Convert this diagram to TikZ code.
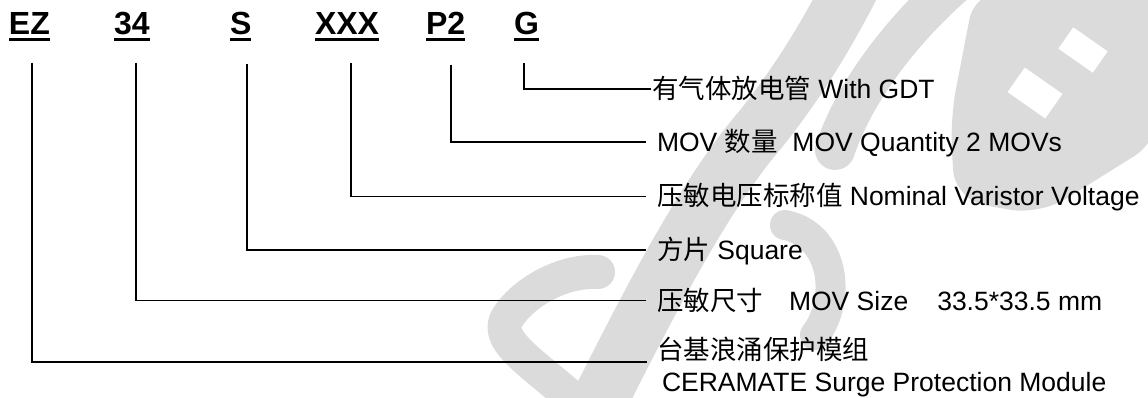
\documentclass[tikz,border=0pt]{standalone}
\usepackage{fontspec}
\setmainfont{Liberation Sans}
\newfontfamily\cjk{Noto Sans CJK SC}
\definecolor{wmgray}{RGB}{219,219,219}
\begin{document}
\begin{tikzpicture}[x=1pt,y=-1pt,
  lbl/.style={anchor=base west, inner sep=0pt, outer sep=0pt, font=\fontsize{32}{32}\selectfont\bfseries},
  desc/.style={anchor=base west, inner sep=0pt, outer sep=0pt, font=\fontsize{26.5}{26.5}\selectfont},
  conn/.style={line width=1.5pt, black},
  uline/.style={line width=3pt},
  wm/.style={draw=wmgray, line width=44pt, line cap=round, line join=round}]
\useasboundingbox (0,0) rectangle (1148,398);
% watermark (approximate)
\draw[wm, line width=34pt] (598,272) .. controls (560,270) and (520,295) .. (506,320) .. controls (495,345) and (545,370) .. (590,415);
\draw[wm, line width=56pt] (585,430) .. controls (640,320) and (700,200) .. (760,130) .. controls (800,80) and (830,30) .. (860,-30);
\draw[wm, line width=30pt] (785,225) .. controls (835,235) and (842,300) .. (815,335);
\draw[wm, line width=40pt] (965,-25) .. controls (905,25) and (855,90) .. (835,150);
\fill[wmgray, rounded corners=30pt] (975,-10) -- (1160,-10) -- (1160,140) -- (1040,215) -- (955,200) -- (950,120) -- cycle;
\fill[white, rotate around={-35:(1035,93)}] (1012,78) rectangle (1058,108);
\fill[white, rotate around={-35:(1083,50)}] (1062,37) rectangle (1104,63);
% labels
\node[lbl] (EZ)  at (9,35)   {EZ};
\node[lbl] (n34) at (114,35) {34};
\node[lbl] (S)   at (230,35) {S};
\node[lbl] (XXX) at (315,35) {XXX};
\node[lbl] (P2)  at (426,35) {P2};
\node[lbl] (G)   at (514,35) {G};
\foreach \n in {EZ,n34,S,XXX,P2,G}
  \draw[uline] ([yshift=-5pt]\n.base west) -- ([yshift=-5pt]\n.base east);
% connector coordinates
\coordinate (ezT) at (32,63);   \coordinate (ezE) at (647,362);
\coordinate (t34T) at (136,63); \coordinate (t34E) at (646,300.5);
\coordinate (sT) at (247,64);   \coordinate (sE) at (646,250);
\coordinate (xT) at (351,63);   \coordinate (xE) at (646,196.5);
\coordinate (pT) at (451,65);   \coordinate (pE) at (646,142);
\coordinate (gT) at (524,63);   \coordinate (gE) at (651,89);
\foreach \a/\b in {ezT/ezE,t34T/t34E,sT/sE,xT/xE,pT/pE,gT/gE}
  \draw[conn] (\a) |- (\b);
% descriptions
\node[desc] (dG)  at (652,98.5)  {{\cjk 有气体放电管} With GDT};
\node[desc] (dP)  at (657,151.5) {MOV {\cjk 数量}\ \ MOV Quantity 2 MOVs};
\node[desc] (dX)  at (657,206)   {{\cjk 压敏电压标称值} Nominal Varistor Voltage};
\node[desc] (dS)  at (657,259.5) {{\cjk 方片} Square};
\node[desc] (d34) at (657,310)   {{\cjk 压敏尺寸}\hspace{26pt}MOV Size\hspace{29pt}33.5*33.5 mm};
\node[desc] (dEZ) at (657,359)   {\cjk 台基浪涌保护模组};
\node[desc] (dEZb) at (662,391)  {CERAMATE Surge Protection Module};
\end{tikzpicture}
\end{document}
